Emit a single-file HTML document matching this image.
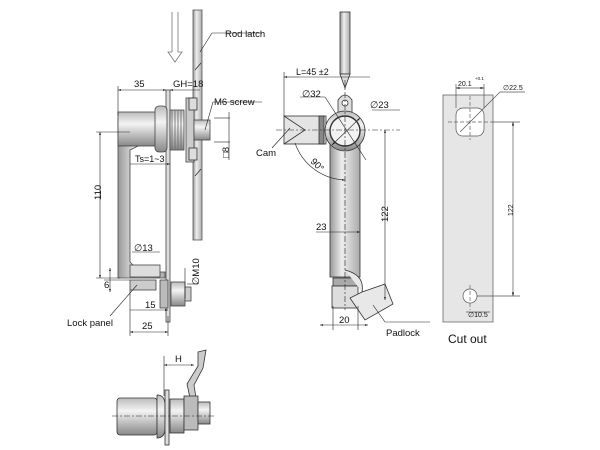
<!DOCTYPE html>
<html><head><meta charset="utf-8"><style>
html,body{margin:0;padding:0;background:#fff;width:600px;height:450px;overflow:hidden}
text{font-family:"Liberation Sans",sans-serif;fill:#111}
</style></head><body>
<svg width="600" height="450" viewBox="0 0 600 450" xmlns="http://www.w3.org/2000/svg">
<defs>
<linearGradient id="cyl" x1="0" y1="0" x2="0" y2="1">
<stop offset="0" stop-color="#bbb"/><stop offset="0.35" stop-color="#f4f4f4"/><stop offset="1" stop-color="#888"/></linearGradient>
<linearGradient id="vbar" x1="0" y1="0" x2="1" y2="0">
<stop offset="0" stop-color="#999"/><stop offset="0.4" stop-color="#eee"/><stop offset="1" stop-color="#aaa"/></linearGradient>
<marker id="a" viewBox="0 0 10 10" refX="10" refY="5" markerWidth="5" markerHeight="5" orient="auto-start-reverse"><path d="M0,2 L10,5 L0,8z" fill="#111"/></marker>
</defs>
<g stroke="#333" stroke-width="0.8" fill="none">
<path d="M172,12 V52 H168 L175,62 L182,52 H178 V12" fill="#fff" stroke="#777"/>
<rect x="193" y="10" width="9" height="230" fill="url(#vbar)" stroke="#555"/>
<path d="M195,70 L201,63 M195,176 L201,169"/>
<rect x="166" y="90" width="4" height="232" fill="#ddd" stroke="#444"/>
<path d="M118,118 H140 V145 L130,150 V262 L140,272 H165 V278 H118 Z" fill="url(#vbar)" stroke="#444"/>
<rect x="118" y="112" width="40" height="34" fill="url(#cyl)" stroke="#444"/>
<rect x="155" y="106" width="12" height="46" rx="4" fill="url(#cyl)" stroke="#444"/>
<rect x="170" y="110" width="14" height="40" fill="url(#cyl)" stroke="#444"/>
<path d="M172,110 v40 M175,110 v40 M178,110 v40 M181,110 v40" stroke="#666"/>
<rect x="186" y="98" width="8" height="64" fill="#ccc" stroke="#444"/>
<rect x="194" y="120" width="16" height="20" fill="url(#cyl)" stroke="#444"/>
<rect x="189" y="98" width="8" height="12" fill="#ddd"/><rect x="189" y="148" width="8" height="12" fill="#ddd"/>
<rect x="130" y="265" width="30" height="12" fill="#ddd" stroke="#444"/>
<rect x="130" y="280" width="26" height="10" fill="#ccc" stroke="#444"/>
<rect x="160" y="280" width="8" height="28" fill="#bbb" stroke="#444"/>
<rect x="171" y="282" width="14" height="24" fill="url(#cyl)" stroke="#444"/>
<rect x="185" y="287" width="6" height="14" fill="#ccc" stroke="#444"/>
<g stroke="#222" stroke-width="0.6">
<line x1="118" y1="90" x2="166" y2="90" marker-start="url(#a)" marker-end="url(#a)"/>
<line x1="170" y1="90" x2="200" y2="90" marker-start="url(#a)"/>
<line x1="118" y1="86" x2="118" y2="116"/>
<line x1="130" y1="164" x2="170" y2="164" marker-end="url(#a)"/>
<line x1="100" y1="132" x2="100" y2="278" marker-start="url(#a)" marker-end="url(#a)"/>
<line x1="96" y1="132" x2="130" y2="132"/><line x1="96" y1="278" x2="120" y2="278"/>
<line x1="110" y1="268" x2="110" y2="292" marker-start="url(#a)" marker-end="url(#a)"/>
<line x1="104" y1="280" x2="130" y2="280"/>
<line x1="132" y1="252" x2="160" y2="252"/>
<line x1="185" y1="268" x2="185" y2="298"/>
<line x1="187" y1="284" x2="198" y2="284"/>
<line x1="130" y1="310" x2="168" y2="310" marker-end="url(#a)"/>
<line x1="130" y1="332" x2="168" y2="332" marker-start="url(#a)" marker-end="url(#a)"/>
<line x1="130" y1="290" x2="130" y2="336"/><line x1="168" y1="316" x2="168" y2="336"/>
<line x1="214" y1="118" x2="230" y2="118"/><line x1="214" y1="142" x2="230" y2="142"/>
<line x1="229" y1="112" x2="229" y2="160"/>
<line x1="200" y1="52" x2="212" y2="33"/><line x1="212" y1="33" x2="262" y2="33"/>
<line x1="205" y1="130" x2="213" y2="102"/><line x1="213" y1="102" x2="262" y2="102"/>
<line x1="137" y1="285" x2="110" y2="316"/>
</g>
</g>
<g font-size="9.5">
<text x="225" y="37">Rod latch</text>
<text x="134" y="87">35</text>
<text x="173" y="87">GH=18</text>
<text x="214" y="105">M6 screw</text>
<text x="135" y="162" font-size="9">Ts=1~3</text>
<text x="134" y="251">∅13</text>
<text x="104" y="288">6</text>
<text x="145" y="308">15</text>
<text x="142" y="329">25</text>
<text x="67" y="326">Lock panel</text>
<text transform="translate(101,200) rotate(-90)">110</text>
<text transform="translate(229,158) rotate(-90)">□8</text>
<text transform="translate(199,285) rotate(-90)">∅M10</text>
</g>

<g stroke="#333" stroke-width="0.8">
<rect x="340" y="12" width="10" height="62" fill="url(#vbar)"/>
<path d="M340,74 L345,88 L350,74 Z" fill="#ddd"/>
<path d="M338,100 Q345,90 352,100 L352,115 L338,115 Z" fill="#ddd"/>
<circle cx="345" cy="103" r="3" fill="#fff"/>
<rect x="284" y="116" width="42" height="28" fill="#e4e4e4"/>
<path d="M284,116 L305,130 L284,144" fill="none"/>
<rect x="319" y="116" width="5" height="28" fill="#888"/>
<rect x="330" y="135" width="30" height="142" fill="url(#vbar)"/>
<circle cx="345" cy="131" r="20" fill="url(#cyl)"/>
<circle cx="345" cy="131" r="15" fill="#f2f2f2" stroke-width="1.4"/>
<rect x="333" y="278" width="24" height="8" fill="#aaa"/>
<rect x="332" y="286" width="26" height="22" fill="#ddd"/>
<path d="M345,270 Q365,275 362,292 L385,284 L393,304 L365,320 L350,298 L362,292" fill="#e8e8e8"/>
</g>
<g stroke="#222" stroke-width="0.6" fill="none">
<line x1="300" y1="77" x2="370" y2="77"/><line x1="284" y1="77" x2="300" y2="77" marker-start="url(#a)"/>
<line x1="284" y1="72" x2="284" y2="116"/>
<line x1="300" y1="97" x2="325" y2="97"/><line x1="325" y1="97" x2="366" y2="160"/>
<line x1="332" y1="145" x2="360" y2="118" marker-start="url(#a)" marker-end="url(#a)"/>
<line x1="372" y1="110" x2="400" y2="110"/>
<line x1="276" y1="130" x2="400" y2="130" stroke-dasharray="6,2,2,2"/>
<line x1="345" y1="80" x2="345" y2="310" stroke-dasharray="6,2,2,2"/>
<path d="M295,143 A55,55 0 0 0 345,180" marker-end="url(#a)"/>
<line x1="272" y1="148" x2="290" y2="128"/>
<line x1="385" y1="130" x2="385" y2="300" marker-start="url(#a)" marker-end="url(#a)"/>
<line x1="316" y1="232" x2="360" y2="232" marker-end="url(#a)"/>
<line x1="320" y1="325" x2="368" y2="325" marker-start="url(#a)" marker-end="url(#a)"/>
<line x1="333" y1="306" x2="333" y2="330"/><line x1="358" y1="306" x2="358" y2="330"/>
<line x1="373" y1="305" x2="385" y2="322"/><line x1="385" y1="322" x2="430" y2="322"/>
</g>
<g font-size="9.5">
<text x="296" y="75" font-size="9">L=45 ±2</text>
<text x="302" y="97">∅32</text>
<text x="370" y="108">∅23</text>
<text x="256" y="156">Cam</text>
<text x="316" y="230">23</text>
<text x="339" y="323">20</text>
<text x="386" y="336">Padlock</text>
<text transform="translate(310,162) rotate(45)">90°</text>
<text transform="translate(388,222) rotate(-90)">122</text>
</g>

<g stroke="#555" stroke-width="0.7">
<rect x="443" y="95" width="50" height="227" fill="#e6e6e6"/>
<rect x="456" y="108" width="28" height="28" rx="7" fill="#fff"/>
<circle cx="470" cy="296" r="7" fill="#fff"/>
<g stroke-dasharray="4,2" stroke="#666"><line x1="448" y1="122" x2="492" y2="122"/><line x1="470" y1="96" x2="470" y2="140"/><line x1="470" y1="285" x2="470" y2="310"/></g>
<line x1="456" y1="84" x2="456" y2="108"/><line x1="484" y1="84" x2="484" y2="108"/>
<line x1="456" y1="88" x2="484" y2="88" marker-start="url(#a)" marker-end="url(#a)"/>
<line x1="460" y1="132" x2="500" y2="92"/><line x1="500" y1="92" x2="525" y2="92"/>
<line x1="492" y1="122" x2="520" y2="122"/><line x1="477" y1="296" x2="520" y2="296"/>
<line x1="513" y1="122" x2="513" y2="296" marker-start="url(#a)" marker-end="url(#a)"/>
<line x1="466" y1="312" x2="490" y2="312"/>
</g>
<g font-size="7">
<text x="458" y="86">20.1</text><text x="475" y="80" font-size="4.5">+0.1</text>
<text x="503" y="90">∅22.5</text>
<text x="468" y="317">∅10.5</text>
<text transform="translate(513,216) rotate(-90)">122</text>
</g>
<text x="448" y="343" font-size="12">Cut out</text>

<g stroke="#333" stroke-width="0.8">
<rect x="117" y="398" width="40" height="37" rx="3" fill="url(#cyl)"/>
<path d="M157,395 Q165,395 165,405 V428 Q165,438 157,438 Z" fill="url(#cyl)"/>
<rect x="165" y="390" width="4" height="55" fill="#ddd"/>
<rect x="170" y="399" width="14" height="34" fill="url(#cyl)"/>
<path d="M198,352 L206,350 L203,368 L194,385 L196,398 L190,398 L187,384 L198,366 Z" fill="#ccc"/>
<rect x="184" y="396" width="14" height="34" fill="#bbb"/>
<rect x="198" y="402" width="12" height="22" fill="url(#cyl)"/>
</g>
<g stroke="#222" stroke-width="0.6"><line x1="164" y1="356" x2="164" y2="396"/>
<line x1="164" y1="365" x2="194" y2="365" marker-start="url(#a)" marker-end="url(#a)"/>
<line x1="112" y1="416" x2="215" y2="416" stroke-dasharray="6,2,2,2"/></g>
<text x="175" y="362" font-size="9.5">H</text>
</svg>
</body></html>
